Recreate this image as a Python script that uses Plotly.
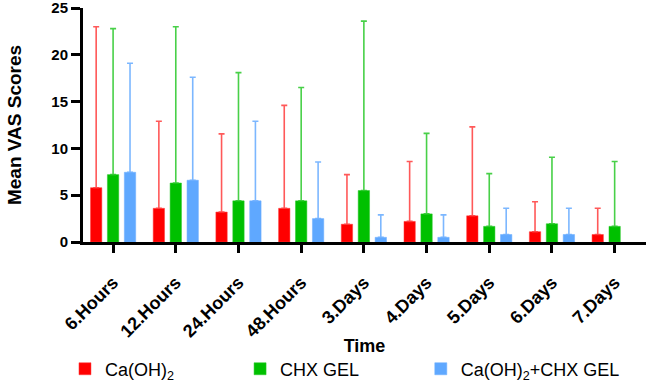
import plotly.graph_objects as go

categories = ["6.Hours", "12.Hours", "24.Hours", "48.Hours", "3.Days", "4.Days", "5.Days", "6.Days", "7.Days"]
caoh2_mean = [5.8, 3.6, 3.2, 3.6, 1.9, 2.2, 2.8, 1.1, 0.8]
caoh2_top = [23.0, 12.9, 11.55, 14.6, 7.2, 8.6, 12.3, 4.3, 3.6]
chx_mean = [7.2, 6.3, 4.4, 4.4, 5.5, 3.0, 1.67, 1.95, 1.67]
chx_top = [22.8, 23.0, 18.1, 16.5, 23.6, 11.6, 7.3, 9.05, 8.6]
combo_mean = [7.45, 6.6, 4.4, 2.5, 0.5, 0.5, 0.8, 0.8, None]
combo_top = [19.1, 17.6, 12.9, 8.55, 2.9, 2.9, 3.6, 3.6, None]

series = [
    ("Ca(OH)<sub>2</sub>", caoh2_mean, caoh2_top, "#FF0000", "rgba(255,60,60,0.85)", "legend"),
    ("CHX GEL", chx_mean, chx_top, "#00C000", "rgba(40,200,40,0.85)", "legend2"),
    ("Ca(OH)<sub>2</sub>+CHX GEL", combo_mean, combo_top, "#5FA8FF", "rgba(110,175,255,0.9)", "legend3"),
]

fig = go.Figure()
for name, mean, top, color, ecolor, leg in series:
    err = [(t - m) if (t is not None and m is not None) else None for m, t in zip(mean, top)]
    fig.add_trace(go.Bar(
        x=categories, y=mean, name=name, legend=leg,
        marker=dict(color=color, line=dict(color=ecolor, width=0.6)),
        error_y=dict(type="data", array=err, arrayminus=[0] * len(err), symmetric=False,
                     color=ecolor, thickness=1.6, width=3),
    ))

font_fam = "Liberation Sans, Arial, sans-serif"
leg_common = dict(orientation="h", xanchor="left", y=-0.543, yanchor="middle",
                  font=dict(size=18, family=font_fam), itemwidth=30,
                  bgcolor="rgba(0,0,0,0)")
fig.update_layout(
    width=649, height=382,
    margin=dict(l=83, r=3, t=8, b=140, autoexpand=False),
    plot_bgcolor="white", paper_bgcolor="white",
    barmode="group", bargap=0.19, bargroupgap=0.33,
    font=dict(family=font_fam, color="black"),
    showlegend=True,
    legend=dict(x=-0.032, **leg_common),
    legend2=dict(x=0.279, **leg_common),
    legend3=dict(x=0.600, **leg_common),
    xaxis=dict(
        range=[-0.48, 8.5], showline=True, linecolor="black", linewidth=3,
        ticks="outside", ticklen=8, tickwidth=3, tickcolor="black",
        tickangle=-45, tickfont=dict(size=18, family=font_fam, weight="bold"),
        ticklabelstandoff=12,
        title=dict(text="<b>Time</b>", font=dict(size=18), standoff=0),
        showgrid=False, zeroline=False, automargin=False,
    ),
    yaxis=dict(
        range=[0, 25], tickvals=[0, 5, 10, 15, 20, 25], showline=True, linecolor="black", linewidth=3,
        ticks="outside", ticklen=9, tickwidth=3, tickcolor="black",
        tickfont=dict(size=15, family=font_fam, weight="bold"),
        ticklabeloverflow="allow",
        title=dict(text="<b>Mean VAS Scores</b>", font=dict(size=19), standoff=25),
        showgrid=False, zeroline=False, automargin=False,
    ),
)

fig.write_html("out.html", config={"displayModeBar": False},
               post_script="document.body.style.margin='0';")
